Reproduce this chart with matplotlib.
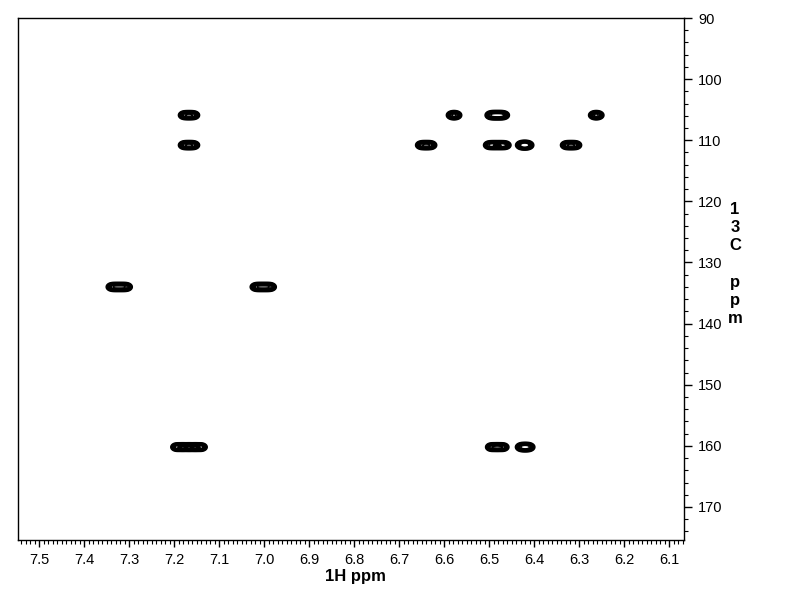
import numpy as np
import matplotlib
matplotlib.use("Agg")
import matplotlib.pyplot as plt
from matplotlib.ticker import MultipleLocator

plt.rcParams['font.family'] = ['Liberation Sans', 'DejaVu Sans']

# Cross-peak data (1H shift, 13C shift, multiplet span in 1H ppm, number of lines)
h_shift = [7.167, 7.167, 6.578, 6.482, 6.262, 6.640, 6.482, 6.421, 6.318,
           7.322, 7.002, 7.167, 6.482, 6.420]
c_shift = [105.9, 110.8, 105.9, 105.9, 105.9, 110.8, 110.8, 110.8, 110.8,
           134.0, 134.0, 160.2, 160.2, 160.2]
h_span = [0.022, 0.022, 0.009, 0.029, 0.009, 0.022, 0.036, 0.015, 0.022,
          0.033, 0.033, 0.056, 0.027, 0.018]
n_lines = [3, 3, 2, 4, 2, 3, 4, 3, 3, 4, 4, 5, 3, 3]

x_ticks = [7.5, 7.4, 7.3, 7.2, 7.1, 7.0, 6.9, 6.8, 6.7, 6.6, 6.5, 6.4, 6.3, 6.2, 6.1]
y_ticks = [90, 100, 110, 120, 130, 140, 150, 160, 170]

fig = plt.figure(figsize=(7.92, 6.12), dpi=100)
ax = fig.add_axes([18/792, 72/612, 666/792, 522/612])

xlim = (7.547, 6.067)
ylim = (175.4, 90.0)

xg = np.linspace(xlim[1], xlim[0], 1800)
yg = np.linspace(ylim[1], ylim[0], 1400)
X, Y = np.meshgrid(xg, yg)
Z = np.zeros_like(X)
sig_h = 0.007
sig_c = 0.38
for h, c, sp, n in zip(h_shift, c_shift, h_span, n_lines):
    offs = np.linspace(-sp / 2, sp / 2, n)
    for o in offs:
        Z += np.exp(-((X - h - o) ** 2) / (2 * sig_h ** 2) - ((Y - c) ** 2) / (2 * sig_c ** 2))

levels = [0.2, 0.3, 0.42, 0.55, 0.7, 0.85, 1.0, 1.2, 1.45]
ax.contour(X, Y, Z, levels=levels, colors='black', linewidths=1.0)

ax.set_xlim(*xlim)
ax.set_ylim(*ylim)

ax.set_xticks(x_ticks)
ax.set_xticklabels([f"{v:.1f}" for v in x_ticks])
ax.xaxis.set_minor_locator(MultipleLocator(0.01))
ax.set_yticks(y_ticks)
ax.set_yticklabels([str(v) for v in y_ticks])
ax.yaxis.set_minor_locator(MultipleLocator(2))
ax.yaxis.tick_right()

ax.tick_params(axis='x', which='major', direction='out', length=5, width=1,
               labelsize=10.5, pad=4, colors='black', top=False)
ax.tick_params(axis='x', which='minor', direction='out', length=3, width=0.8, top=False)
ax.tick_params(axis='y', which='major', direction='out', length=6, width=1,
               labelsize=10.5, pad=4, left=False, right=True)
ax.tick_params(axis='y', which='minor', direction='out', length=3, width=0.8,
               left=False, right=True)

for s in ax.spines.values():
    s.set_linewidth(1)
    s.set_color('black')

fig.text(355/792, 1 - 577/612, "1H ppm", ha='center', va='center',
         fontsize=12, fontweight='bold')
fig.text(735/792, 1 - 202/612, "1\n3\nC\n\np\np\nm", ha='center', va='top',
         fontsize=12, fontweight='bold', linespacing=1.27)

fig.savefig("out.png", dpi=100, facecolor='white')
